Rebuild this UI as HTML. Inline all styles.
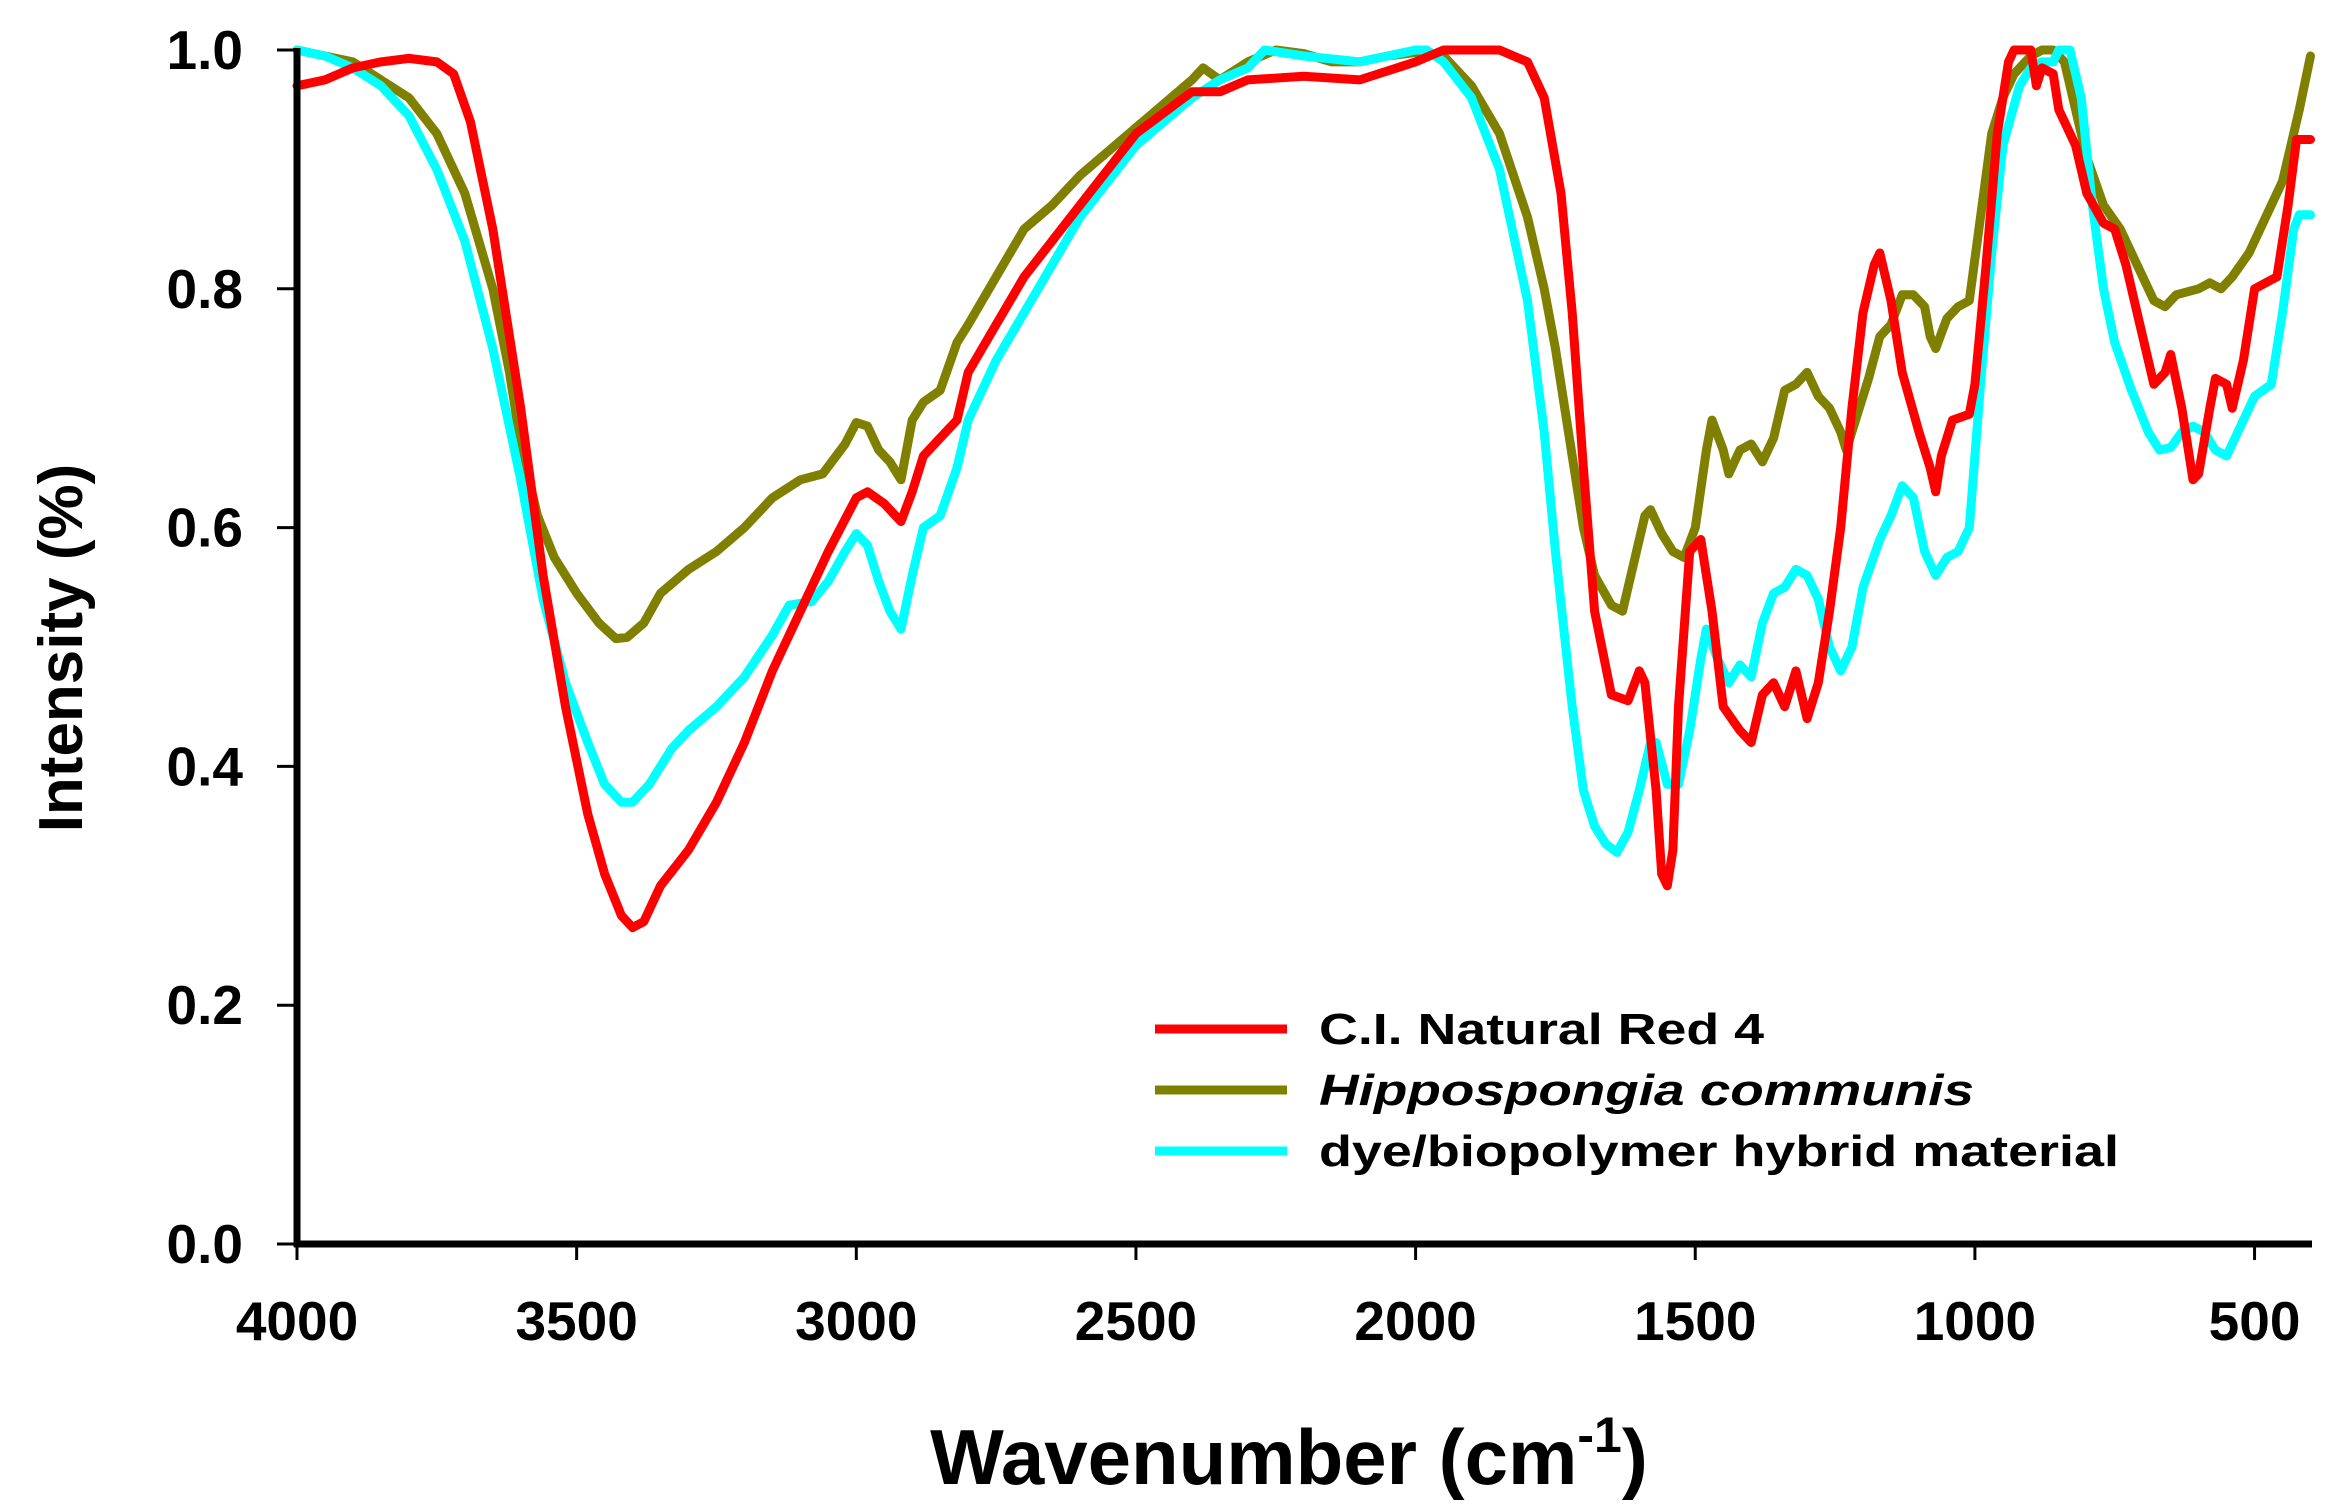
<!DOCTYPE html>
<html><head><meta charset="utf-8"><style>
html,body{margin:0;padding:0;background:#fff;}
svg{display:block;font-family:"Liberation Sans",Arial,sans-serif;font-weight:bold;}
</style></head><body>
<svg id="chart" width="2336" height="1507" viewBox="0 0 2336 1507" xmlns="http://www.w3.org/2000/svg">
<g id="series"></g>
<g id="axes"></g>
<g id="legend"></g>
<text x="1289" y="1484" font-size="78" text-anchor="middle">Wavenumber  (cm<tspan font-size="50" dy="-32">-1</tspan><tspan dy="32">)</tspan></text>
<text transform="translate(82,648) rotate(-90)" font-size="62" text-anchor="middle">Intensity (%)</text>
</svg>
<script>
const xTicks = [4000,3500,3000,2500,2000,1500,1000,500];
const yTicks = [0.0,0.2,0.4,0.6,0.8,1.0];
const seriesNames = ["C.I. Natural Red 4","Hippospongia communis","dye/biopolymer hybrid material"];
const redWn = [4000,3950,3900,3850,3800,3750,3720,3690,3650,3600,3560,3520,3480,3450,3420,3400,3380,3350,3300,3250,3200,3150,3100,3050,3000,2980,2950,2920,2900,2880,2850,2820,2800,2750,2700,2600,2500,2400,2350,2300,2200,2100,2000,1950,1900,1850,1800,1770,1740,1720,1700,1680,1650,1620,1600,1590,1570,1560,1550,1540,1530,1510,1490,1470,1450,1420,1400,1380,1360,1340,1320,1300,1280,1260,1240,1220,1200,1180,1170,1150,1130,1100,1080,1070,1060,1040,1010,1000,980,960,940,930,900,890,880,860,850,820,800,770,750,730,700,680,660,650,630,610,600,580,570,550,540,520,500,480,460,440,425,400];
const redVal = [0.97,0.975,0.985,0.99,0.993,0.99,0.98,0.94,0.85,0.70,0.56,0.45,0.36,0.31,0.275,0.265,0.27,0.30,0.33,0.37,0.42,0.48,0.53,0.58,0.625,0.63,0.62,0.605,0.63,0.66,0.675,0.69,0.73,0.77,0.81,0.87,0.93,0.965,0.965,0.975,0.978,0.975,0.99,1.0,1.0,1.0,0.99,0.96,0.88,0.78,0.65,0.53,0.46,0.455,0.48,0.47,0.38,0.31,0.30,0.33,0.45,0.58,0.59,0.53,0.45,0.43,0.42,0.46,0.47,0.45,0.48,0.44,0.47,0.53,0.60,0.70,0.78,0.82,0.83,0.79,0.73,0.68,0.65,0.63,0.66,0.69,0.695,0.72,0.82,0.93,0.99,1.0,1.0,0.97,0.985,0.98,0.95,0.92,0.88,0.855,0.85,0.82,0.76,0.72,0.73,0.745,0.70,0.64,0.645,0.70,0.725,0.72,0.70,0.74,0.80,0.805,0.81,0.87,0.925,0.925];
const oliveWn = [4000,3950,3900,3850,3800,3750,3700,3650,3620,3600,3570,3540,3500,3460,3430,3410,3380,3350,3300,3250,3200,3150,3100,3060,3020,3000,2980,2960,2940,2920,2900,2880,2850,2820,2800,2750,2700,2650,2600,2500,2400,2380,2350,2300,2250,2200,2150,2100,2050,2000,1950,1900,1850,1800,1770,1750,1720,1700,1680,1650,1630,1610,1590,1580,1560,1540,1520,1500,1480,1470,1450,1440,1420,1400,1380,1360,1340,1320,1300,1280,1260,1240,1230,1210,1190,1170,1150,1130,1110,1090,1080,1070,1050,1030,1010,990,970,950,930,900,880,860,840,820,800,770,740,710,680,660,640,600,580,560,540,510,480,450,420,400];
const oliveVal = [1.0,0.995,0.99,0.975,0.96,0.93,0.88,0.80,0.73,0.67,0.61,0.575,0.545,0.52,0.507,0.508,0.52,0.545,0.565,0.58,0.60,0.625,0.64,0.645,0.67,0.688,0.685,0.665,0.655,0.64,0.69,0.705,0.715,0.755,0.77,0.81,0.85,0.87,0.895,0.935,0.975,0.985,0.975,0.99,1.0,0.997,0.99,0.99,0.995,0.998,0.995,0.97,0.93,0.86,0.80,0.75,0.66,0.60,0.56,0.535,0.53,0.57,0.61,0.615,0.595,0.58,0.575,0.60,0.665,0.69,0.665,0.645,0.665,0.67,0.655,0.675,0.715,0.72,0.73,0.71,0.70,0.68,0.665,0.695,0.725,0.76,0.77,0.795,0.795,0.785,0.76,0.75,0.775,0.785,0.79,0.86,0.93,0.96,0.98,0.995,1.0,1.0,0.99,0.95,0.91,0.87,0.85,0.82,0.79,0.785,0.795,0.80,0.805,0.80,0.81,0.83,0.86,0.89,0.95,0.995];
const cyanWn = [4000,3950,3900,3850,3800,3750,3700,3650,3600,3560,3520,3480,3450,3420,3400,3370,3330,3300,3250,3200,3150,3120,3080,3050,3020,3000,2980,2960,2940,2920,2900,2880,2850,2820,2800,2750,2700,2650,2600,2500,2400,2350,2300,2270,2200,2100,2050,2000,1980,1950,1900,1850,1800,1770,1750,1720,1700,1680,1660,1640,1620,1600,1580,1570,1550,1530,1510,1490,1480,1460,1440,1420,1400,1380,1360,1340,1320,1300,1280,1260,1240,1220,1200,1170,1150,1130,1110,1090,1070,1050,1030,1010,990,970,950,920,900,880,860,850,830,810,790,770,750,720,690,670,650,630,610,590,570,550,520,500,470,450,430,420,400];
const cyanVal = [1.0,0.995,0.985,0.97,0.945,0.90,0.84,0.75,0.64,0.54,0.47,0.42,0.385,0.37,0.37,0.385,0.415,0.43,0.45,0.475,0.51,0.535,0.538,0.555,0.58,0.595,0.585,0.555,0.53,0.515,0.56,0.60,0.61,0.65,0.69,0.74,0.78,0.82,0.86,0.92,0.96,0.975,0.985,1.0,0.995,0.99,0.995,1.0,1.0,0.99,0.96,0.90,0.79,0.68,0.58,0.45,0.38,0.35,0.335,0.328,0.345,0.38,0.42,0.42,0.385,0.385,0.43,0.49,0.515,0.49,0.47,0.485,0.475,0.52,0.545,0.55,0.565,0.56,0.54,0.50,0.48,0.50,0.55,0.59,0.61,0.635,0.625,0.58,0.56,0.575,0.58,0.60,0.72,0.83,0.92,0.97,0.985,0.99,0.99,1.0,1.0,0.96,0.87,0.80,0.755,0.715,0.68,0.665,0.667,0.68,0.685,0.68,0.665,0.66,0.69,0.71,0.72,0.78,0.85,0.862,0.862];

const NS="http://www.w3.org/2000/svg";
const X0=297, PX=0.5593, Y0=1244, YS=1194;
function xs(w){return X0+(4000-w)*PX;}
function ys(v){return Y0-v*YS;}
function mk(tag,attrs,parent){const e=document.createElementNS(NS,tag);for(const k in attrs)e.setAttribute(k,attrs[k]);parent.appendChild(e);return e;}
const sg=document.getElementById('series');
const colors=["#ff0000","#808000","#00ffff"];
const sets=[[redWn,redVal],[oliveWn,oliveVal],[cyanWn,cyanVal]];
const sNames=["series-red-4","series-hippospongia","series-hybrid"];
[1,2,0].forEach(i=>{
  const d=sets[i][0].map((w,j)=>(j?'L':'M')+xs(w).toFixed(1)+' '+ys(sets[i][1][j]).toFixed(1)).join(' ');
  const p=mk('path',{d:d,fill:'none',stroke:colors[i],'stroke-width':9,'stroke-linejoin':'round','stroke-linecap':'round'},sg);
  
  
});
const ax=document.getElementById('axes');
const yl=mk('line',{x1:X0,y1:48,x2:X0,y2:Y0+3,stroke:'#000','stroke-width':7},ax);


const xl=mk('line',{x1:X0-3,y1:Y0,x2:2312,y2:Y0,stroke:'#000','stroke-width':7},ax);


yTicks.forEach(v=>{
  const t=mk('line',{x1:X0-20,y1:ys(v),x2:X0,y2:ys(v),stroke:'#000','stroke-width':3},ax);
  
  
  const l=mk('text',{x:243,y:ys(v)+19,'font-size':55,'text-anchor':'end'},ax);
  l.textContent=v.toFixed(1);
  
  
});
xTicks.forEach(w=>{
  const t=mk('line',{x1:xs(w),y1:Y0,x2:xs(w),y2:Y0+16,stroke:'#000','stroke-width':3},ax);
  
  
  const l=mk('text',{x:xs(w),y:1340,'font-size':55,'text-anchor':'middle'},ax);
  l.textContent=String(w);
  
  
});
const lg=document.getElementById('legend');
const ly=[1029,1090,1151];
const lw=[445,655,800];
seriesNames.forEach((n,i)=>{
  const ln=mk('line',{x1:1155,y1:ly[i],x2:1287,y2:ly[i],stroke:colors[i],'stroke-width':9},lg);
  
  
  const t=mk('text',{x:1319,y:ly[i]+15,'font-size':44,textLength:lw[i],lengthAdjust:'spacingAndGlyphs'},lg);
  if(i===1)t.setAttribute('font-style','italic');
  t.textContent=n;
  
  
});
</script>
</body></html>
